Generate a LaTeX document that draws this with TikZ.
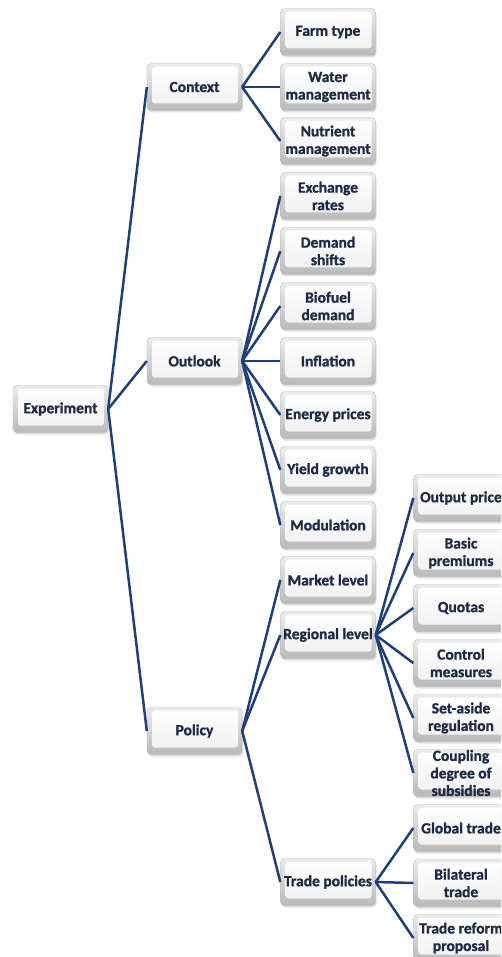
\documentclass[tikz,border=0pt]{standalone}
\usepackage{fontspec}
\setmainfont{Carlito}[BoldFeatures={FakeBold=1.2}]
\usetikzlibrary{shadows}
\definecolor{linec}{HTML}{1F3F75}
\definecolor{txtc}{HTML}{1E2B45}
\newcommand\mybtn[4]{\node[btn] (#1) at (#2,#3) {}; \node[lbl] at (#1) {#4};}
\begin{document}
\begin{tikzpicture}[x=1pt,y=-1pt,
  btn/.style={rectangle, rounded corners=4pt, minimum width=95pt, minimum height=47pt,
    inner sep=0pt, draw=gray!55, top color=gray!15, bottom color=gray!55,
    drop shadow={shadow xshift=1pt, shadow yshift=-2pt, opacity=0.25},
    path picture={\shade[top color=white, bottom color=gray!12, rounded corners=3pt]
      ([shift={(5pt,-3pt)}]path picture bounding box.north west) rectangle
      ([shift={(-4pt,7pt)}]path picture bounding box.south east);}},
  lbl/.style={font=\bfseries\fontsize{15.5}{17.5}\selectfont, text=txtc, align=center, inner sep=0pt},
  conn/.style={draw=linec, line width=2.5pt}]
\useasboundingbox (0,0) rectangle (501,957);
\clip (0,0) rectangle (501,957);
% root and first level
\mybtn{exp}{60.5}{409}{Experiment}
\mybtn{ctx}{194.5}{87}{Context}
\mybtn{out}{194.5}{361}{Outlook}
\mybtn{pol}{194.5}{731}{Policy}
% second column
\mybtn{farm}{328}{32}{Farm type}
\mybtn{water}{328}{87}{Water\\management}
\mybtn{nutr}{328}{141}{Nutrient\\management}
\mybtn{exch}{328}{196}{Exchange\\rates}
\mybtn{dem}{328}{251}{Demand\\shifts}
\mybtn{bio}{328}{306}{Biofuel\\demand}
\mybtn{infl}{328}{361}{Inflation}
\mybtn{energy}{328}{415}{Energy prices}
\mybtn{yield}{328}{470}{Yield growth}
\mybtn{modu}{328}{525}{Modulation}
\mybtn{market}{328}{580}{Market level}
\mybtn{region}{328}{635}{Regional level}
\mybtn{trade}{328}{882}{Trade policies}
% third column
\mybtn{outp}{461}{498}{Output price}
\mybtn{basic}{461}{553}{Basic\\premiums}
\mybtn{quota}{461}{608}{Quotas}
\mybtn{ctrl}{461}{663}{Control\\measures}
\mybtn{setas}{461}{718}{Set-aside\\regulation}
\mybtn{coup}{461}{773}{Coupling\\degree of\\subsidies}
\mybtn{glob}{461}{828}{Global trade}
\mybtn{bilat}{461}{883}{Bilateral\\trade}
\mybtn{reform}{461}{938}{Trade reform\\proposal}
% connectors
\foreach \c in {ctx,out,pol} \draw[conn] (exp.east) -- (\c.west);
\foreach \c in {farm,water,nutr} \draw[conn] (ctx.east) -- (\c.west);
\foreach \c in {exch,dem,bio,infl,energy,yield,modu} \draw[conn] (out.east) -- (\c.west);
\foreach \c in {market,region,trade} \draw[conn] (pol.east) -- (\c.west);
\foreach \c in {outp,basic,quota,ctrl,setas,coup} \draw[conn] (region.east) -- (\c.west);
\foreach \c in {glob,bilat,reform} \draw[conn] (trade.east) -- (\c.west);
\end{tikzpicture}
\end{document}
